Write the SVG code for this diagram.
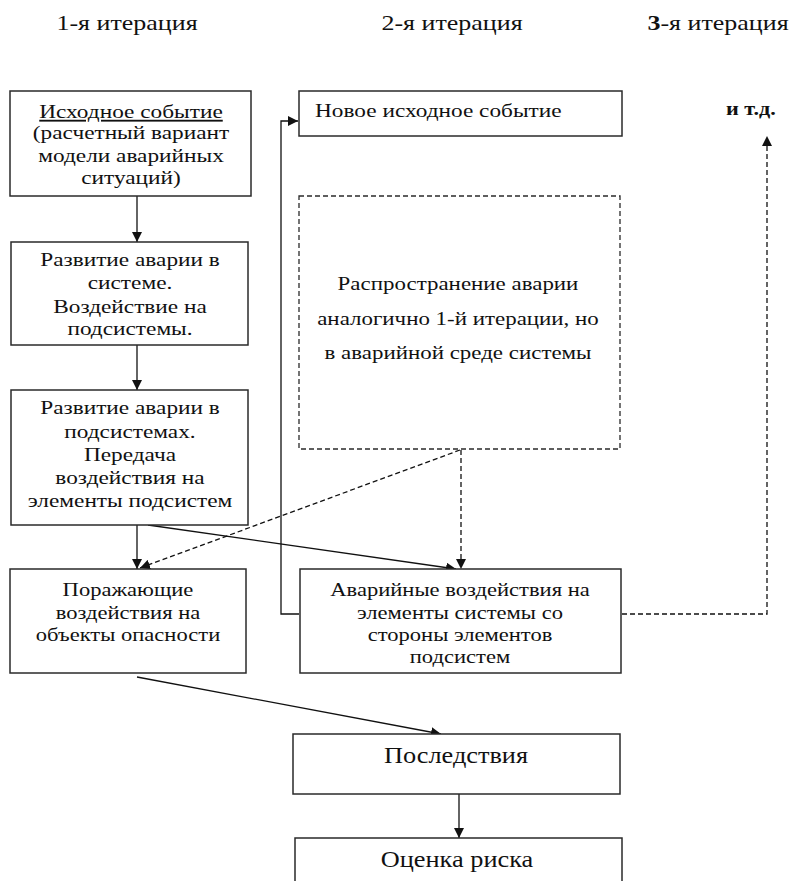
<svg xmlns="http://www.w3.org/2000/svg" width="793" height="881" viewBox="0 0 793 881">
<defs>
<marker id="ah" viewBox="0 0 10 10" refX="10" refY="5" markerWidth="10" markerHeight="10" markerUnits="userSpaceOnUse" orient="auto">
<path d="M0,0 L10,5 L0,10 z" fill="#111"/>
</marker>
</defs>
<style>
.box{fill:#fff;stroke:#2a2a2a;stroke-width:1.5}
.dbox{fill:#fff;stroke:#2a2a2a;stroke-width:1.3;stroke-dasharray:5,3}
text{font-family:'Liberation Serif','Times New Roman',serif;fill:#111}
.t{font-size:18.5px;text-anchor:middle}
.tl{font-size:18.5px}
.big{font-size:22.5px;text-anchor:middle}
.hdr{font-size:20px;text-anchor:middle}
.c{fill:none;stroke:#111;stroke-width:1.3}
.d{fill:none;stroke:#111;stroke-width:1.3;stroke-dasharray:5,3}
</style>
<rect width="793" height="881" fill="#fff"/>
<g id="headers">
<g transform="translate(127 0) scale(1.3 1)"><text class="hdr" x="0" y="30">1-я итерация</text></g>
<g transform="translate(452 0) scale(1.3 1)"><text class="hdr" x="0" y="30">2-я итерация</text></g>
<g transform="translate(718 0) scale(1.3 1)"><text class="hdr" x="0" y="30"><tspan font-weight="bold">3</tspan>-я итерация</text></g>
</g>
<g id="connectors">
<line class="c" x1="137" y1="196" x2="137" y2="242" marker-end="url(#ah)"/>
<line class="c" x1="137" y1="345" x2="137" y2="390" marker-end="url(#ah)"/>
<line class="c" x1="137" y1="525" x2="137" y2="569" marker-end="url(#ah)"/>
<line class="c" x1="148" y1="525" x2="456" y2="569" marker-end="url(#ah)"/>
<line class="d" x1="460" y1="450" x2="140" y2="568" marker-end="url(#ah)"/>
<line class="d" x1="461" y1="450" x2="461" y2="569" marker-end="url(#ah)"/>
<polyline class="c" points="299,614 281,614 281,121 298,121" marker-end="url(#ah)"/>
<polyline class="d" points="622,614 767,614 767,136" marker-end="url(#ah)"/>
<line class="c" x1="137" y1="677" x2="441" y2="734" marker-end="url(#ah)"/>
<line class="c" x1="459" y1="794" x2="459" y2="838" marker-end="url(#ah)"/>
</g>
<g id="n1">
<rect class="box" x="10" y="91" width="241" height="105"/>
<g transform="translate(131 0) scale(1.26 1)">
<text class="t" x="0" y="118" text-decoration="underline">Исходное событие</text>
<text class="t" x="0" y="139">(расчетный вариант</text>
<text class="t" x="0" y="162">модели аварийных</text>
<text class="t" x="0" y="184">ситуаций)</text>
</g>
</g>
<g id="n2">
<rect class="box" x="11" y="242" width="237" height="103"/>
<g transform="translate(130 0) scale(1.26 1)">
<text class="t" x="0" y="266">Развитие аварии в</text>
<text class="t" x="0" y="289">системе.</text>
<text class="t" x="0" y="313">Воздействие на</text>
<text class="t" x="0" y="335">подсистемы.</text>
</g>
</g>
<g id="n3">
<rect class="box" x="11" y="390" width="237" height="135"/>
<g transform="translate(130 0) scale(1.26 1)">
<text class="t" x="0" y="414">Развитие аварии в</text>
<text class="t" x="0" y="438">подсистемах.</text>
<text class="t" x="0" y="461">Передача</text>
<text class="t" x="0" y="484">воздействия на</text>
<text class="t" x="0" y="507">элементы подсистем</text>
</g>
</g>
<g id="n4">
<rect class="box" x="10" y="569" width="236" height="104"/>
<g transform="translate(128 0) scale(1.22 1)">
<text class="t" x="0" y="596">Поражающие</text>
<text class="t" x="0" y="619">воздействия на</text>
<text class="t" x="0" y="641">объекты опасности</text>
</g>
</g>
<g id="n5">
<rect class="box" x="300" y="569" width="321" height="104"/>
<g transform="translate(460 0) scale(1.22 1)">
<text class="t" x="0" y="596">Аварийные воздействия на</text>
<text class="t" x="0" y="619">элементы системы со</text>
<text class="t" x="0" y="641">стороны элементов</text>
<text class="t" x="0" y="663">подсистем</text>
</g>
</g>
<g id="n6">
<rect class="box" x="299" y="91" width="323" height="45"/>
<g transform="translate(315 0) scale(1.26 1)">
<text class="tl" x="0" y="117">Новое исходное событие</text>
</g>
</g>
<g id="n7">
<rect class="dbox" x="299" y="196" width="321" height="253"/>
<g transform="translate(458 0) scale(1.24 1)">
<text class="t" x="0" y="290">Распространение аварии</text>
<text class="t" x="0" y="325">аналогично 1-й итерации, но</text>
<text class="t" x="0" y="359">в аварийной среде системы</text>
</g>
</g>
<g id="n8">
<g transform="translate(726 0) scale(1.2 1)">
<text class="tl" x="0" y="115" font-weight="bold" font-size="17">и т.д.</text>
</g>
</g>
<g id="n9">
<rect class="box" x="293" y="734" width="327" height="60"/>
<g transform="translate(456 0) scale(1.17 1)">
<text class="big" x="0" y="763">Последствия</text>
</g>
</g>
<g id="n10">
<rect class="box" x="295" y="838" width="327" height="60"/>
<g transform="translate(457 0) scale(1.17 1)">
<text class="big" x="0" y="867">Оценка риска</text>
</g>
</g>
</svg>
